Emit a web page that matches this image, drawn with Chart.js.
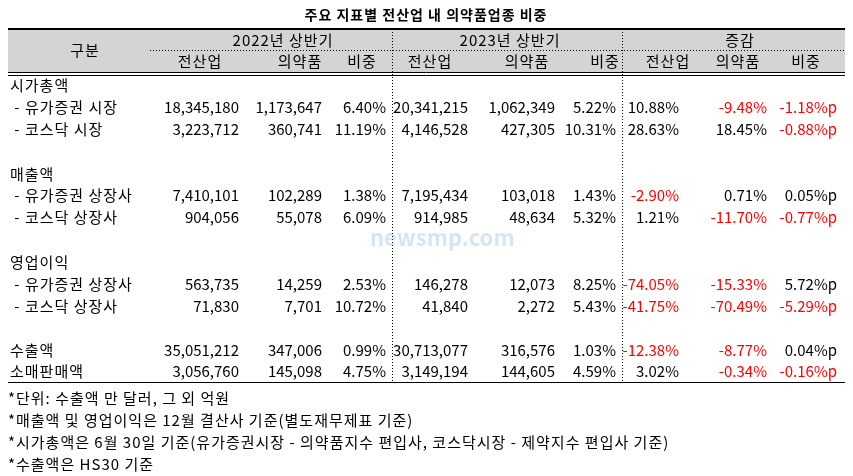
<!DOCTYPE html>
<html><head><meta charset="utf-8">
<script src="https://cdn.jsdelivr.net/npm/chart.js@4"></script>
<style>html,body{margin:0;padding:0;background:#fff}#w{width:853px;height:476px}</style>
</head><body><div id="w"><canvas id="c"></canvas></div>
<script>
const title = "주요 지표별 전산업 내 의약품업종 비중";
const groups = ["2022년 상반기","2023년 상반기","증감"];
const subHeads = ["전산업","의약품","비중","전산업","의약품","비중","전산업","의약품","비중"];
const rowLabels = ["시가총액"," - 유가증권 시장"," - 코스닥 시장","","매출액"," - 유가증권 상장사"," - 코스닥 상장사","","영업이익"," - 유가증권 상장사"," - 코스닥 상장사","","수출액","소매판매액"];
const total2022 = [null,"18,345,180","3,223,712",null,null,"7,410,101","904,056",null,null,"563,735","71,830",null,"35,051,212","3,056,760"];
const pharma2022 = [null,"1,173,647","360,741",null,null,"102,289","55,078",null,null,"14,259","7,701",null,"347,006","145,098"];
const share2022 = [null,"6.40%","11.19%",null,null,"1.38%","6.09%",null,null,"2.53%","10.72%",null,"0.99%","4.75%"];
const total2023 = [null,"20,341,215","4,146,528",null,null,"7,195,434","914,985",null,null,"146,278","41,840",null,"30,713,077","3,149,194"];
const pharma2023 = [null,"1,062,349","427,305",null,null,"103,018","48,634",null,null,"12,073","2,272",null,"316,576","144,605"];
const share2023 = [null,"5.22%","10.31%",null,null,"1.43%","5.32%",null,null,"8.25%","5.43%",null,"1.03%","4.59%"];
const chgTotal = [null,"10.88%","28.63%",null,null,"-2.90%","1.21%",null,null,"-74.05%","-41.75%",null,"-12.38%","3.02%"];
const chgPharma = [null,"-9.48%","18.45%",null,null,"0.71%","-11.70%",null,null,"-15.33%","-70.49%",null,"-8.77%","-0.34%"];
const chgShare = [null,"-1.18%p","-0.88%p",null,null,"0.05%p","-0.77%p",null,null,"5.72%p","-5.29%p",null,"0.04%p","-0.16%p"];
const notes = ["*단위: 수출액 만 달러, 그 외 억원","*매출액 및 영업이익은 12월 결산사 기준(별도재무제표 기준)","*시가총액은 6월 30일 기준(유가증권시장 - 의약품지수 편입사, 코스닥시장 - 제약지수 편입사 기준)","*수출액은 HS30 기준"];

const columns = [total2022,pharma2022,share2022,total2023,pharma2023,share2023,chgTotal,chgPharma,chgShare];
const colRight = [239,322,386,468,555,616,679,767,837];
const subCenter = [200,300,362,430,527,605,668,738,806];
const groupCenter = [283,510,740];
const rowY = [85,107,129,151,174,195,217,239,262,284,306,328,350,371];
const noteY = [398,420,442,464];
const F = '"Noto Sans CJK KR","Noto Sans",sans-serif';

const tablePlugin = {id:'table', afterDraw(chart){
  const ctx = chart.ctx, X = chart.scales.x, Y = chart.scales.y;
  const px = v=>X.getPixelForValue(v), py = v=>Y.getPixelForValue(v);
  ctx.save();
  ctx.fillStyle = '#d4d4d4';
  ctx.fillRect(px(8),py(29),px(845)-px(8),py(72)-py(29));
  ctx.strokeStyle='#000';
  ctx.lineWidth=2; ctx.beginPath(); ctx.moveTo(px(8),py(29)); ctx.lineTo(px(845),py(29)); ctx.stroke();
  ctx.lineWidth=1;
  [72.5,75.5,382.5].forEach(y=>{ctx.beginPath();ctx.moveTo(px(8),py(y));ctx.lineTo(px(845),py(y));ctx.stroke();});
  ctx.setLineDash([1,2]);
  ctx.beginPath();ctx.moveTo(px(150),py(50.5));ctx.lineTo(px(845),py(50.5));ctx.stroke();
  [392.5,622.5].forEach(x=>{ctx.beginPath();ctx.moveTo(px(x),py(29));ctx.lineTo(px(x),py(382));ctx.stroke();});
  ctx.setLineDash([]);
  ctx.font = 'bold 22px '+F; ctx.fillStyle='rgba(120,170,220,0.3)'; ctx.textAlign='left'; ctx.textBaseline='middle';
  ctx.fillText('newsmp.com', px(370), py(238));
  ctx.fillStyle='#000'; ctx.textAlign='center';
  ctx.letterSpacing='1px';
  ctx.font='bold 14px '+F; ctx.fillText(title, px(426), py(15));
  ctx.font='15px '+F;
  ctx.fillText('구분', px(85), py(50));
  groups.forEach((g,i)=>ctx.fillText(g, px(groupCenter[i]), py(40)));
  subHeads.forEach((s,i)=>ctx.fillText(s, px(subCenter[i]), py(61)));
  ctx.textAlign='left';
  rowLabels.forEach((r,i)=>{ if(r) ctx.fillText(r, px(10), py(rowY[i])); });
  notes.forEach((n,i)=>ctx.fillText(n, px(8), py(noteY[i])));
  ctx.letterSpacing='0px';
  ctx.textAlign='right';
  columns.forEach((col,ci)=>col.forEach((v,ri)=>{
    if(v===null) return;
    ctx.fillStyle = (ci>=6 && v.startsWith('-')) ? '#ff0000' : '#000';
    ctx.fillText(v, px(colRight[ci]), py(rowY[ri]));
  }));
  ctx.restore();
}};

new Chart(document.getElementById('c'), {
  type:'scatter',
  data:{datasets:[{data:[]}]},
  options:{responsive:true,maintainAspectRatio:false,animation:false,
    layout:{padding:0},
    plugins:{legend:{display:false},tooltip:{enabled:false}},
    scales:{x:{type:'linear',min:0,max:853,display:false},y:{type:'linear',min:0,max:476,reverse:true,display:false}}},
  plugins:[tablePlugin]
});
</script></body></html>
